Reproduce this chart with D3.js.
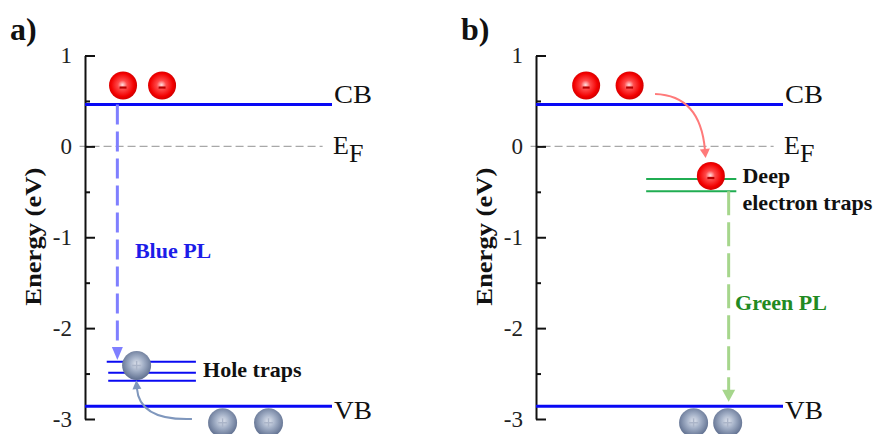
<!DOCTYPE html>
<html><head><meta charset="utf-8">
<script src="https://cdn.jsdelivr.net/npm/d3@7"></script>
<style>
html,body{margin:0;padding:0;background:#fff;}
svg{display:block;font-family:'Liberation Serif','Times New Roman',serif;}
</style>
</head><body>
<svg id="chart" width="881" height="434"></svg>
<script>
// ---------------- data ----------------
const panelNames = ["a)", "b)"];
const yTicks = [1, 0, -1, -2, -3];
const yTickLabels = ["1", "0", "-1", "-2", "-3"];
const yMinorTicks = [0.5, -0.5, -1.5, -2.5];
const yLabel = "Energy (eV)";
const bandNames = ["CB", "VB"];
const bandEnergies = [0.46, -2.86];
const fermiEnergy = 0;
const holeTrapEnergies = [-2.37, -2.49, -2.58];
const electronTrapEnergies = [-0.36, -0.495];
// schematic horizontal coordinate: 0 = axis, 100 = end of band line
const electronsA = [[15.4, 0.67], [31.2, 0.67]];
const holesA = [[20.9, -2.41], [55.7, -3.04], [74.3, -3.04]];
const electronsB = [[20.3, 0.67], [37.9, 0.67], [70.8, -0.325]];
const holesB = [[63.8, -3.04], [77.6, -3.04]];
const transitionNames = ["Blue PL", "Green PL"];
const transitionX = [13.1, 78];
const transitionFrom = [0.46, -0.495];
const transitionTo = [-2.35, -2.81];
const holeTrapSpan = [[8.8, 44.9], [9.4, 44.9], [9.4, 44.9]];
const electronTrapSpan = [44.6, 81.1];
const trapLabelsA = ["Hole traps"];
const trapLabelsB = ["Deep", "electron traps"];
// capture arrows (start, control, end) in schematic units
const captureA = [[43.3, -3.0], [22.0, -3.02], [21.0, -2.66]];
const captureB = [[48.2, 0.575], [66.5, 0.56], [68.4, -0.04]];

// ---------------- layout ----------------
const svg = d3.select("#chart");
const panelOffsets = [0, 451];
const x = d3.scaleLinear().domain([0, 100]).range([85, 332]);
const y = d3.scaleLinear().domain([-3, 1]).range([419, 55.5]);

const defs = svg.append("defs");
const eg = defs.append("radialGradient").attr("id", "gElectron")
  .attr("cx", "48%").attr("cy", "48%").attr("r", "55%");
eg.append("stop").attr("offset", "0%").attr("stop-color", "#ffe0e0");
eg.append("stop").attr("offset", "30%").attr("stop-color", "#ff4a4a");
eg.append("stop").attr("offset", "75%").attr("stop-color", "#f20000");
eg.append("stop").attr("offset", "100%").attr("stop-color", "#c80000");
const hg = defs.append("radialGradient").attr("id", "gHole")
  .attr("cx", "50%").attr("cy", "45%").attr("r", "55%");
hg.append("stop").attr("offset", "0%").attr("stop-color", "#dfe4ee");
hg.append("stop").attr("offset", "45%").attr("stop-color", "#a2afc6");
hg.append("stop").attr("offset", "100%").attr("stop-color", "#5f6f8f");

function arrowHead(g, tipX, tipY, angle, len, width, color) {
  const bx = tipX - len * Math.cos(angle), by = tipY - len * Math.sin(angle);
  const px = -Math.sin(angle) * width / 2, py = Math.cos(angle) * width / 2;
  g.append("path")
    .attr("d", `M${tipX},${tipY}L${bx + px},${by + py}L${bx - px},${by - py}Z`)
    .attr("fill", color);
}

function electron(g, p) {
  const cx = x(p[0]), cy = y(p[1]);
  g.append("circle").attr("cx", cx).attr("cy", cy).attr("r", 14).attr("fill", "url(#gElectron)");
  g.append("rect").attr("x", cx - 3.5).attr("y", cy + 1).attr("width", 7).attr("height", 2.2).attr("fill", "#b80000");
}
function hole(g, p) {
  const cx = x(p[0]), cy = y(p[1]);
  g.append("circle").attr("cx", cx).attr("cy", cy).attr("r", 14.5).attr("fill", "url(#gHole)");
  g.append("path").attr("d", `M${cx - 4.5},${cy}H${cx + 4.5}M${cx},${cy - 4.5}V${cy + 4.5}`)
    .attr("stroke", "#aab4c8").attr("stroke-width", 1.5);
}

function drawPanel(i) {
  const g = svg.append("g").attr("transform", `translate(${panelOffsets[i]},0)`);
  // panel label
  g.append("text").attr("x", 10).attr("y", 40).attr("font-size", 32).attr("font-weight", "bold")
    .attr("fill", "#111").text(panelNames[i]);
  // y label
  g.append("text").attr("transform", `translate(41,236.7) rotate(-90)`)
    .attr("text-anchor", "middle").attr("font-size", 24).attr("font-weight", "bold")
    .attr("textLength", 138).attr("lengthAdjust", "spacingAndGlyphs")
    .attr("fill", "#111").text(yLabel);
  // Fermi level
  g.append("line").attr("x1", x(-2.2)).attr("x2", x(96.2)).attr("y1", y(fermiEnergy)).attr("y2", y(fermiEnergy))
    .attr("stroke", "#a8a8a8").attr("stroke-width", 1.1).attr("stroke-dasharray", "8,4");
  const ef = g.append("text").attr("x", x(100.4)).attr("y", y(fermiEnergy) + 7.5).attr("font-size", 26).attr("fill", "#111");
  ef.append("tspan").text("E");
  ef.append("tspan").attr("dy", 8).text("F");
  // axis
  const ax = g.append("g").attr("transform", `translate(${x(0)},0)`)
    .call(d3.axisLeft(y).tickValues(yTicks).tickSizeInner(-10).tickSizeOuter(0).tickPadding(13)
      .tickFormat((d, k) => yTickLabels[k]));
  ax.select(".domain").attr("stroke", "#111").attr("stroke-width", 2);
  ax.selectAll(".tick line").attr("stroke", "#111").attr("stroke-width", 2);
  ax.selectAll(".tick text").attr("font-family", "'Liberation Serif','Times New Roman',serif")
    .attr("font-size", 23).attr("fill", "#222");
  const mx = g.append("g").attr("transform", `translate(${x(0)},0)`)
    .call(d3.axisLeft(y).tickValues(yMinorTicks).tickSizeInner(-5).tickSizeOuter(0).tickFormat(""));
  mx.select(".domain").remove();
  mx.selectAll(".tick line").attr("stroke", "#111").attr("stroke-width", 2);
  // bands
  bandEnergies.forEach((e, k) => {
    g.append("line").attr("x1", x(0)).attr("x2", x(100)).attr("y1", y(e)).attr("y2", y(e))
      .attr("stroke", "#0808f4").attr("stroke-width", 3);
    g.append("text").attr("x", x(100.8)).attr("y", y(e) + (k === 0 ? -2 : 13)).attr("font-size", 26)
      .attr("textLength", 38).attr("lengthAdjust", "spacingAndGlyphs").attr("fill", "#111").text(bandNames[k]);
  });
  return g;
}

// ---------- panel a ----------
const ga = drawPanel(0);
holeTrapEnergies.forEach((e, k) => {
  ga.append("line").attr("x1", x(holeTrapSpan[k][0])).attr("x2", x(holeTrapSpan[k][1]))
    .attr("y1", y(e)).attr("y2", y(e)).attr("stroke", "#0a0af2").attr("stroke-width", 2);
});
ga.append("text").attr("x", x(47.8)).attr("y", y(-2.54)).attr("font-size", 22).attr("font-weight", "bold")
  .attr("fill", "#111").text(trapLabelsA[0]);
// Blue PL
ga.append("line").attr("x1", x(transitionX[0])).attr("x2", x(transitionX[0]))
  .attr("y1", y(transitionFrom[0])).attr("y2", y(transitionTo[0]) - 12)
  .attr("stroke", "#7f7fff").attr("stroke-width", 3).attr("stroke-dasharray", "20,7");
arrowHead(ga, x(transitionX[0]), y(transitionTo[0]), Math.PI / 2, 13, 11, "#7f7fff");
ga.append("text").attr("x", x(20.2)).attr("y", y(-1.23)).attr("font-size", 22).attr("font-weight", "bold")
  .attr("fill", "#1c1ce8").text(transitionNames[0]);
// capture arrow (hole)
{
  const p0 = captureA[0], c = captureA[1], p1 = captureA[2];
  ga.append("path").attr("d", `M${x(p0[0])},${y(p0[1])}Q${x(c[0])},${y(c[1])} ${x(p1[0])},${y(p1[1])}`)
    .attr("fill", "none").attr("stroke", "#7f97bd").attr("stroke-width", 2);
  const ang = Math.atan2(y(p1[1]) - y(c[1]), x(p1[0]) - x(c[0]));
  arrowHead(ga, x(p1[0]) + 8 * Math.cos(ang), y(p1[1]) + 8 * Math.sin(ang), ang, 9, 9, "#7f97bd");
}
electronsA.forEach(p => electron(ga, p));
holesA.forEach(p => hole(ga, p));

// ---------- panel b ----------
const gb = drawPanel(1);
electronTrapEnergies.forEach(e => {
  gb.append("line").attr("x1", x(electronTrapSpan[0])).attr("x2", x(electronTrapSpan[1]))
    .attr("y1", y(e)).attr("y2", y(e)).attr("stroke", "#20ad52").attr("stroke-width", 2);
});
gb.append("text").attr("x", x(83.6)).attr("y", y(-0.405)).attr("font-size", 22).attr("font-weight", "bold")
  .attr("fill", "#111").text(trapLabelsB[0]);
gb.append("text").attr("x", x(83.6)).attr("y", y(-0.705)).attr("font-size", 22).attr("font-weight", "bold")
  .attr("fill", "#111").text(trapLabelsB[1]);
// Green PL
gb.append("line").attr("x1", x(transitionX[1])).attr("x2", x(transitionX[1]))
  .attr("y1", y(transitionFrom[1])).attr("y2", y(transitionTo[1]) - 11)
  .attr("stroke", "#a6d68c").attr("stroke-width", 3).attr("stroke-dasharray", "24,7");
arrowHead(gb, x(transitionX[1]), y(transitionTo[1]), Math.PI / 2, 12, 13, "#a6d68c");
gb.append("text").attr("x", x(80.6)).attr("y", y(-1.8)).attr("font-size", 22).attr("font-weight", "bold")
  .attr("fill", "#228a22").text(transitionNames[1]);
// capture arrow (electron)
{
  const p0 = captureB[0], c = captureB[1], p1 = captureB[2];
  gb.append("path").attr("d", `M${x(p0[0])},${y(p0[1])}Q${x(c[0])},${y(c[1])} ${x(p1[0])},${y(p1[1])}`)
    .attr("fill", "none").attr("stroke", "#ff7a7a").attr("stroke-width", 2);
  const ang = Math.atan2(y(p1[1]) - y(c[1]), x(p1[0]) - x(c[0]));
  arrowHead(gb, x(p1[0]) + 8 * Math.cos(ang), y(p1[1]) + 8 * Math.sin(ang), ang, 9, 10, "#ff7a7a");
}
electronsB.forEach(p => electron(gb, p));
holesB.forEach(p => hole(gb, p));
</script>
</body></html>
